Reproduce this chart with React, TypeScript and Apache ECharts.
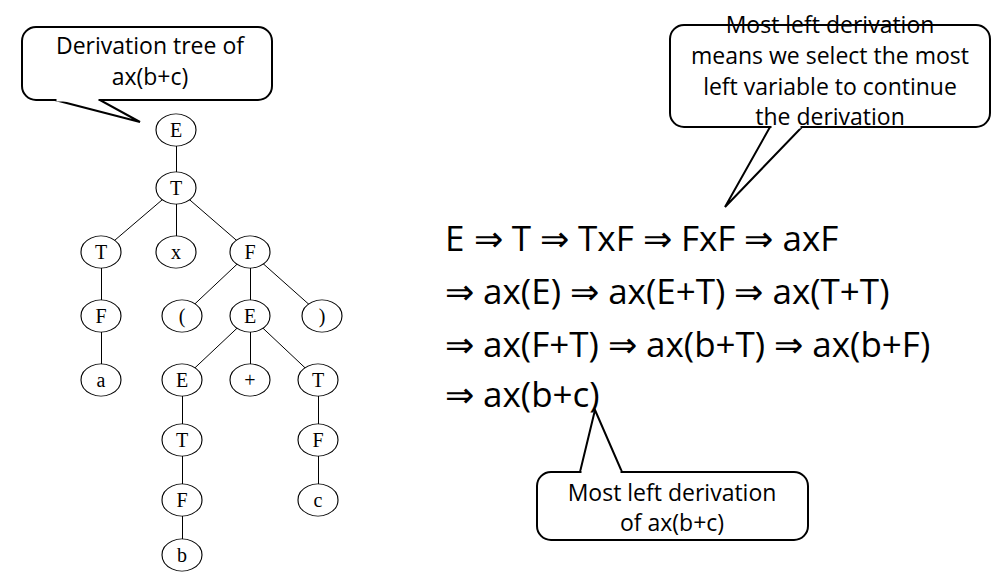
import { useEffect, useRef } from "react";
import * as echarts from "echarts";

// tree nodes: [id, label, x, y]
const nodes: [string, string, number, number][] = [
  ["E0", "E", 176, 130],
  ["T0", "T", 176, 188],
  ["T1", "T", 101, 252],
  ["x", "x", 176, 252],
  ["F0", "F", 250, 252],
  ["F1", "F", 101, 316],
  ["lp", "(", 182, 316],
  ["E1", "E", 250, 316],
  ["rp", ")", 322, 316],
  ["a", "a", 101, 380],
  ["E2", "E", 182, 380],
  ["plus", "+", 250, 380],
  ["T2", "T", 318, 380],
  ["T3", "T", 182, 440],
  ["F2", "F", 318, 440],
  ["F3", "F", 182, 500],
  ["c", "c", 318, 500],
  ["b", "b", 182, 555],
];

const edges: [string, string][] = [
  ["E0", "T0"], ["T0", "T1"], ["T0", "x"], ["T0", "F0"],
  ["T1", "F1"], ["F1", "a"], ["F0", "lp"], ["F0", "E1"], ["F0", "rp"],
  ["E1", "E2"], ["E1", "plus"], ["E1", "T2"], ["E2", "T3"], ["T3", "F3"],
  ["F3", "b"], ["T2", "F2"], ["F2", "c"],
];

const derivation = [
  "E ⇒ T ⇒ TxF ⇒ FxF ⇒ axF",
  "⇒ ax(E) ⇒ ax(E+T) ⇒ ax(T+T)",
  "⇒ ax(F+T) ⇒ ax(b+T) ⇒ ax(b+F)",
  "⇒ ax(b+c)",
];

const treeNote = ["Derivation tree of", "ax(b+c)"];
const ruleNote = ["Most left derivation", "means we select the most", "left variable to continue", "the derivation"];
const leftNote = ["Most left derivation", "of ax(b+c)"];

const FONT = "'Open Sans', sans-serif";

function callout(
  box: [number, number, number, number],
  tail: [number, number][],
  lines: string[],
  cx: number,
  ys: number[],
  size: number
): any[] {
  const [x, y, w, h] = box;
  const stroke = { stroke: "#000", lineWidth: 2 };
  return [
    { type: "rect", shape: { x, y, width: w, height: h, r: 14 }, style: { fill: "#fff", ...stroke }, z: 10 },
    { type: "polygon", shape: { points: tail }, style: { fill: "#fff", ...stroke }, z: 11 },
    { type: "line", shape: { x1: tail[0][0] + 1.5, y1: tail[0][1], x2: tail[2][0] - 1.5, y2: tail[2][1] }, style: { stroke: "#fff", lineWidth: 3 }, z: 12 },
    ...lines.map((t, i) => ({
      type: "text", x: cx, y: ys[i], z: 13,
      style: { text: t, fill: "#000", font: `${size}px ${FONT}`, align: "center", verticalAlign: "middle" },
    })),
  ];
}

export default function App() {
  const ref = useRef<HTMLDivElement>(null);
  useEffect(() => {
    if (!ref.current) return;
    const chart = echarts.init(ref.current, undefined, { renderer: "svg" });
    chart.setOption({
      animation: false,
      backgroundColor: "#fff",
      grid: { left: 0, right: 0, top: 0, bottom: 0 },
      xAxis: { type: "value", min: 0, max: 1000, show: false },
      yAxis: { type: "value", min: 0, max: 583, inverse: true, show: false },
      series: [
        {
          type: "graph",
          coordinateSystem: "cartesian2d",
          symbol: "circle",
          symbolSize: [40, 32],
          itemStyle: { color: "#fff", borderColor: "#000", borderWidth: 1 },
          lineStyle: { color: "#000", width: 1, opacity: 1 },
          label: { show: true, position: "inside", color: "#000", fontSize: 20, fontFamily: "'Liberation Serif', serif" },
          data: nodes.map(([id, label, x, y]) => ({ id, name: id, value: [x, y], label: { formatter: label } })),
          links: edges.map(([s, t]) => ({ source: s, target: t })),
        },
      ],
      graphic: [
        ...derivation.map((t, i) => ({
          type: "text", x: 445, y: [237, 290, 343, 393][i],
          style: { text: t, fill: "#000", font: `35px ${FONT}`, verticalAlign: "middle" },
        })),
        ...callout([22, 27, 250, 73], [[55, 100], [140, 122], [100, 100]], treeNote, 150, [45, 76], 23),
        ...callout([670, 25, 320, 102], [[770, 127], [725, 207], [802, 127]], ruleNote, 830, [24, 55, 86, 116], 23),
        ...callout([537, 472, 271, 68], [[580, 472], [595, 410], [622, 472]], leftNote, 672, [492, 522], 23),
      ],
    });
    return () => chart.dispose();
  }, []);
  return <div ref={ref} style={{ position: "fixed", left: 0, top: 0, width: 1000, height: 583 }} />;
}
